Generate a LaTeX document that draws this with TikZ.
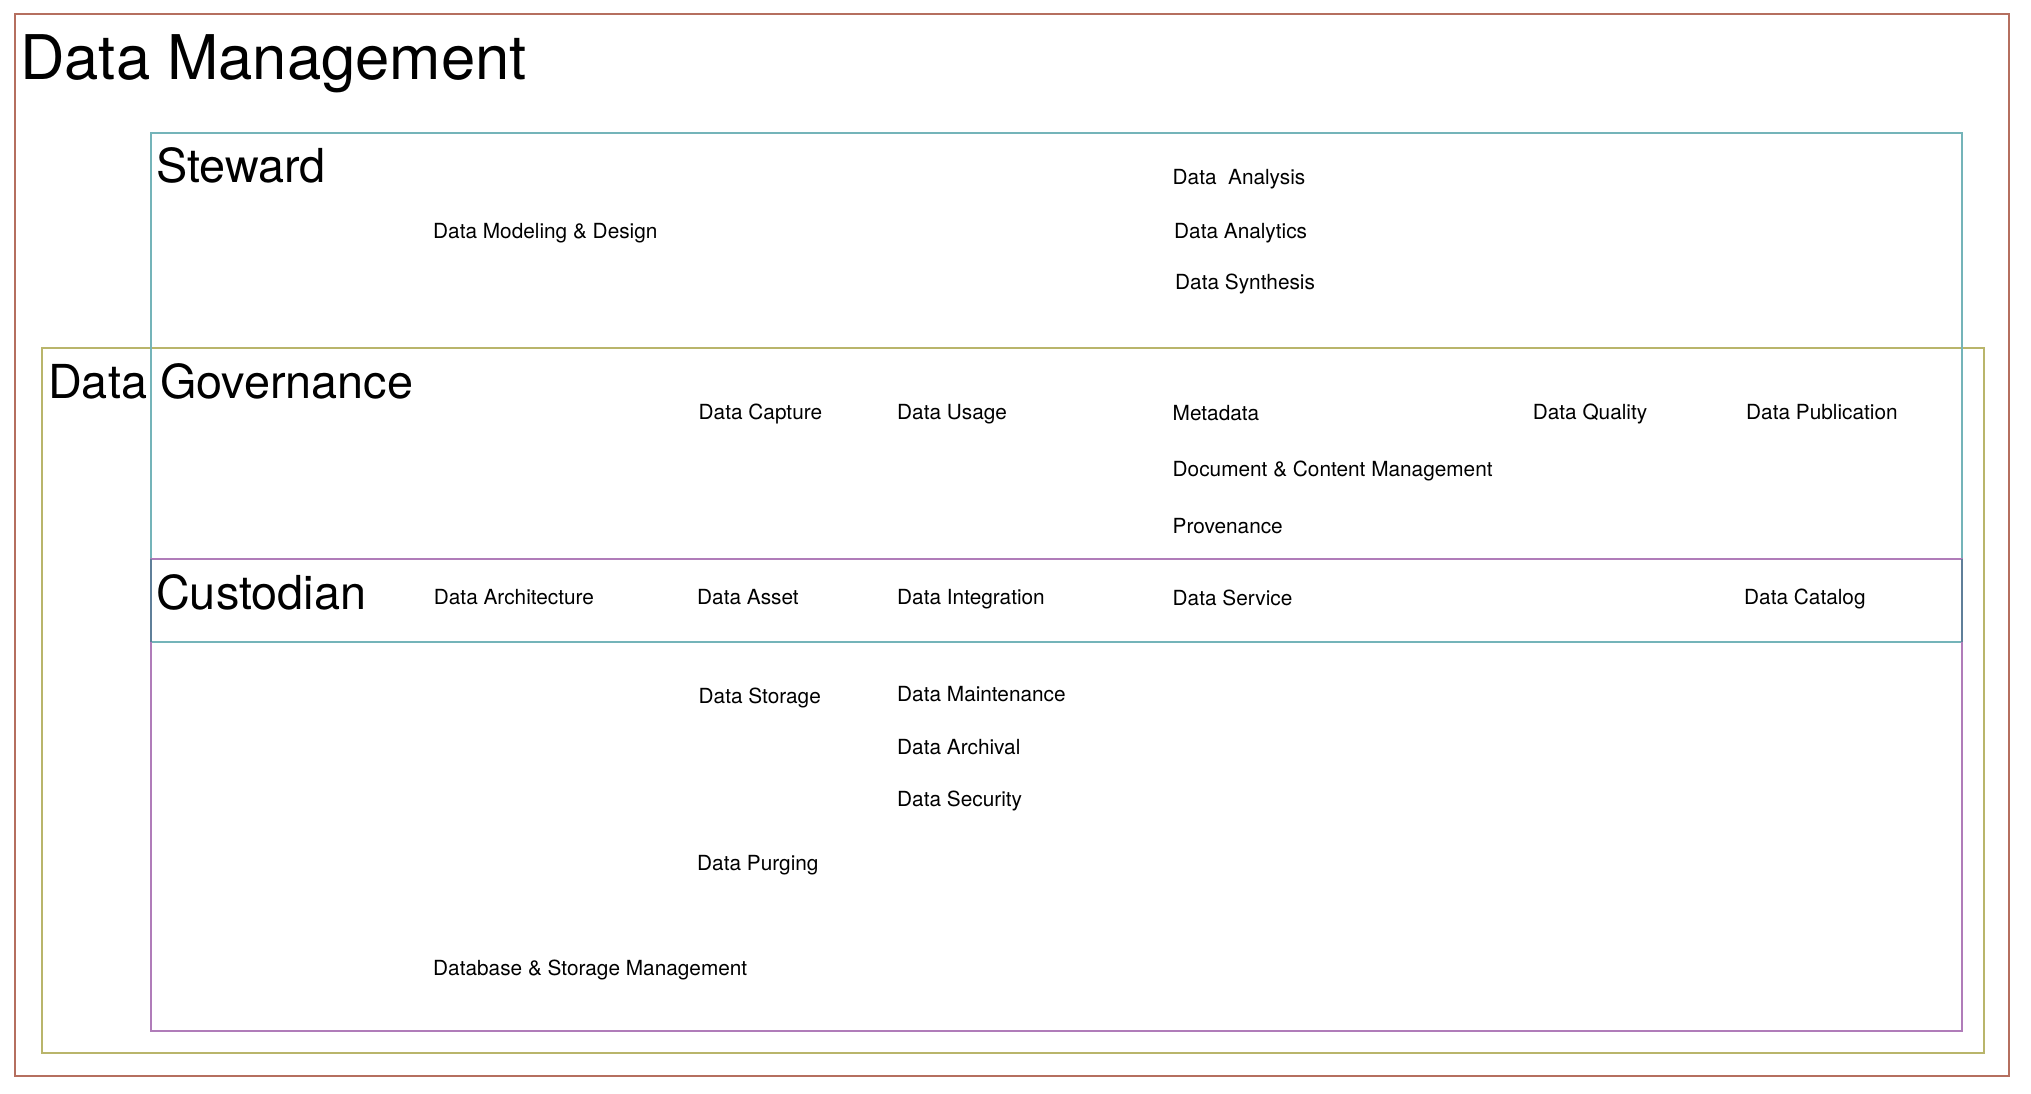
\documentclass[tikz,border=0pt]{standalone}
\usepackage{fontspec}
\setmainfont{TeX Gyre Heros}
\definecolor{cOuter}{RGB}{181,111,95}
\definecolor{cGov}{RGB}{185,181,107}
\definecolor{cStew}{RGB}{116,180,185}
\definecolor{cCust}{RGB}{176,124,185}
\definecolor{cMix}{RGB}{95,127,153}
\tikzset{
  frame/.style={line width=2pt},
  lbl/.style={inner sep=0pt, anchor=base west, font=\fontsize{20.8}{24}\selectfont, xshift=-1pt},
  ttl/.style={inner sep=0pt, anchor=base west, font=\fontsize{46.8}{50}\selectfont, xshift=-1pt},
  bigttl/.style={inner sep=0pt, anchor=base west, font=\fontsize{61.6}{66}\selectfont}
}
\begin{document}
\begin{tikzpicture}[x=1pt,y=-1pt]
\useasboundingbox (0,0) rectangle (2031,1094);
% frames
\draw[frame, cOuter] (14.5,14) rectangle (2009,1076);
\draw[frame, cGov] (42,348) rectangle (1983.5,1053);
\draw[frame, cStew] (150.5,133) rectangle (1962,641.7);
\draw[frame, cCust] (150.5,558.7) rectangle (1962,1031);
\draw[frame, cMix] (150.5,558.7) -- (150.5,641.7);
\draw[frame, cMix] (1962,558.7) -- (1962,641.7);
% titles
\node[bigttl] (dm) at (20,80) {Data Management};
\node[ttl] (stew) at (157,182.7) {Steward};
\node[ttl] (gov) at (49,398) {Data Governance};
\node[ttl] (cust) at (157,609) {Custodian};
% labels
\node[lbl] (mod) at (434,238) {Data Modeling \& Design};
\node[lbl] (ana) at (1173.5,185) {Data\ \ Analysis};
\node[lbl] (anl) at (1175,238) {Data Analytics};
\node[lbl] (syn) at (1176,289.7) {Data Synthesis};
\node[lbl] (cap) at (699.5,419.3) {Data Capture};
\node[lbl] (use) at (898,419.3) {Data Usage};
\node[lbl] (meta) at (1173.5,420.3) {Metadata};
\node[lbl] (qual) at (1533.6,419) {Data Quality};
\node[lbl] (pub) at (1747,419) {Data Publication};
\node[lbl] (doc) at (1173.5,476.3) {Document \& Content Management};
\node[lbl] (prov) at (1173.5,533.3) {Provenance};
\node[lbl] (arch) at (434.7,604) {Data Architecture};
\node[lbl] (asset) at (698,604) {Data Asset};
\node[lbl] (integ) at (898,604) {Data Integration};
\node[lbl] (serv) at (1173.5,605.7) {Data Service};
\node[lbl] (cat) at (1745,604) {Data Catalog};
\node[lbl] (stor) at (699.5,703) {Data Storage};
\node[lbl] (maint) at (898,701.3) {Data Maintenance};
\node[lbl] (arc) at (898,754.7) {Data Archival};
\node[lbl] (sec) at (898,806.3) {Data Security};
\node[lbl] (purg) at (698,870) {Data Purging};
\node[lbl] (dbm) at (434,975) {Database \& Storage Management};
\end{tikzpicture}
\end{document}
